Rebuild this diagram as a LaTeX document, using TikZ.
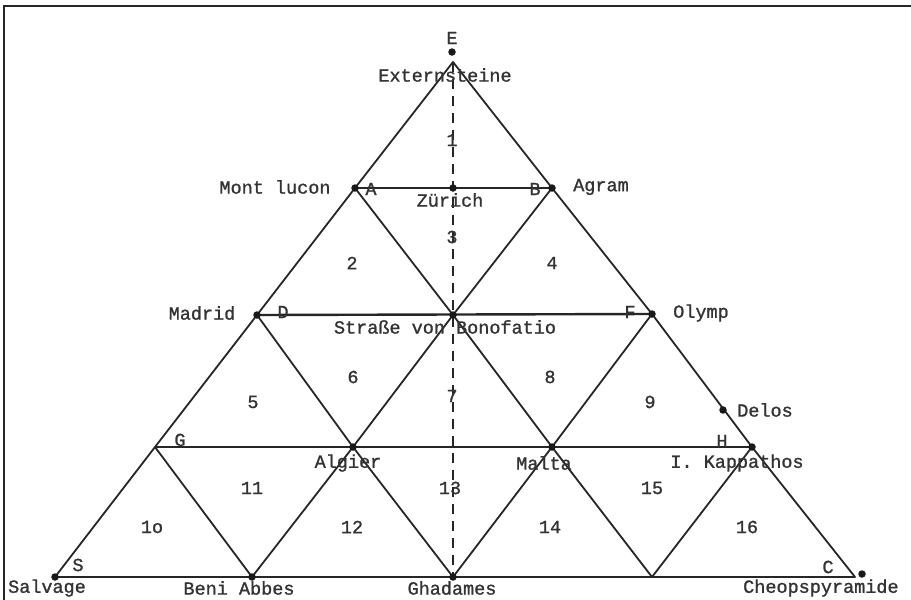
\documentclass[tikz,border=0pt]{standalone}
\usepackage{fontspec}
\newfontfamily\lblfont{Liberation Mono}[FakeBold=1.2]
\begin{document}
\begin{tikzpicture}[x=1pt,y=-1pt,
  lbl/.style={font=\lblfont\fontsize{18.5}{20}\selectfont, text=black!80, inner sep=0pt},
  dot/.style={circle, fill=black!90, inner sep=0pt, minimum size=7.5pt},
  edge/.style={line width=1.8pt, draw=black!85, line join=round},
  thickedge/.style={line width=2.4pt, draw=black!85},
  axis/.style={line width=1.8pt, draw=black!85, dash pattern=on 10pt off 7pt},
  frame/.style={line width=2pt, draw=black!85}]
\useasboundingbox (0,0) rectangle (911,600);
% frame
\coordinate (f1) at (4,600);
\coordinate (f2) at (4,6);
\coordinate (f3) at (911,6);
\draw[frame] (f1) -- (f2) -- (f3);
% grid points
\coordinate (T) at (453,62);
\coordinate (A) at (355,188);
\coordinate (Z) at (453,188);
\coordinate (B) at (552,188);
\coordinate (D) at (257,315);
\coordinate (O) at (453,315);
\coordinate (F) at (652,314);
\coordinate (G) at (155,447);
\coordinate (Al) at (353,447);
\coordinate (Ma) at (552,447);
\coordinate (H) at (752,447);
\coordinate (S) at (55,577);
\coordinate (BA) at (252,577);
\coordinate (Gh) at (453,577);
\coordinate (X) at (652,577);
\coordinate (C) at (855,577);
% outline
\draw[edge] (T) -- (A) -- (D) -- (G) -- (S) -- (BA) -- (Gh) -- (X) -- (C) -- (H) -- (F) -- (B) -- cycle;
% horizontals
\draw[thickedge] (A) -- (B);
\draw[thickedge] (D) -- (F);
\draw[edge] (G) -- (H);
% diagonals
\draw[edge] (B) -- (O) -- (Al) -- (BA);
\draw[edge] (F) -- (Ma) -- (Gh);
\draw[edge] (H) -- (X);
\draw[edge] (A) -- (O) -- (Ma) -- (X);
\draw[edge] (D) -- (Al) -- (Gh);
\draw[edge] (G) -- (BA);
% axis
\draw[axis] (T) -- (Gh);
% dots
\node[dot] (dE) at (452,52) {};
\node[dot] (dA) at (A) {};
\node[dot] (dZ) at (Z) {};
\node[dot] (dB) at (B) {};
\node[dot] (dD) at (D) {};
\node[dot] (dO) at (O) {};
\node[dot] (dF) at (F) {};
\node[dot] (dDelos) at (723,410) {};
\node[dot] (dAl) at (Al) {};
\node[dot] (dMa) at (Ma) {};
\node[dot] (dH) at (H) {};
\node[dot] (dS) at (S) {};
\node[dot] (dBA) at (BA) {};
\node[dot] (dGh) at (Gh) {};
\node[dot] (dC) at (862,574) {};
% labels
\node[lbl] (lE) at (452,38) {E};
\node[lbl] (lExt) at (445,75) {Externsteine};
\node[lbl] (lMont) at (275,187) {Mont lucon};
\node[lbl] (lA) at (371,189) {A};
\node[lbl] (lB) at (535,189) {B};
\node[lbl] (lAgram) at (601,187) {Agram};
\node[lbl] (lZ) at (450,200) {Zürich};
\node[lbl] (n1) at (452,140) {1};
\node[lbl] (n3) at (452,237) {3};
\node[lbl] (n2) at (352,263) {2};
\node[lbl] (n4) at (552,263) {4};
\node[lbl] (lMadrid) at (202,313) {Madrid};
\node[lbl] (lD) at (283,312) {D};
\node[lbl] (lStr) at (445,327) {Straße von Bonofatio};
\node[lbl] (lF) at (630,312) {F};
\node[lbl] (lOlymp) at (701,313) {Olymp};
\node[lbl] (n5) at (253,402) {5};
\node[lbl] (n6) at (353,377) {6};
\node[lbl] (n7) at (452,396) {7};
\node[lbl] (n8) at (550,377) {8};
\node[lbl] (n9) at (650,402) {9};
\node[lbl] (lDelos) at (765,410) {Delos};
\node[lbl] (lG) at (180,440) {G};
\node[lbl] (lH) at (722,441) {H};
\node[lbl] (lAlgier) at (348,463) {Algier};
\node[lbl] (lMalta) at (544,463) {Malta};
\node[lbl] (lKarp) at (737,463) {I. Kappathos};
\node[lbl] (n11) at (252,488) {11};
\node[lbl] (n13) at (450,488) {13};
\node[lbl] (n15) at (652,488) {15};
\node[lbl] (n10) at (152,527) {1o};
\node[lbl] (n12) at (352,527) {12};
\node[lbl] (n14) at (550,527) {14};
\node[lbl] (n16) at (747,527) {16};
\node[lbl] (lS) at (78,565) {S};
\node[lbl] (lC) at (828,567) {C};
\node[lbl] (lSalv) at (47,588) {Salvage};
\node[lbl] (lBeni) at (239,588) {Beni Abbes};
\node[lbl] (lGhad) at (452,588) {Ghadames};
\node[lbl, anchor=west] (lCheops) at (743,588) {Cheopspyramide};
\end{tikzpicture}
\end{document}
